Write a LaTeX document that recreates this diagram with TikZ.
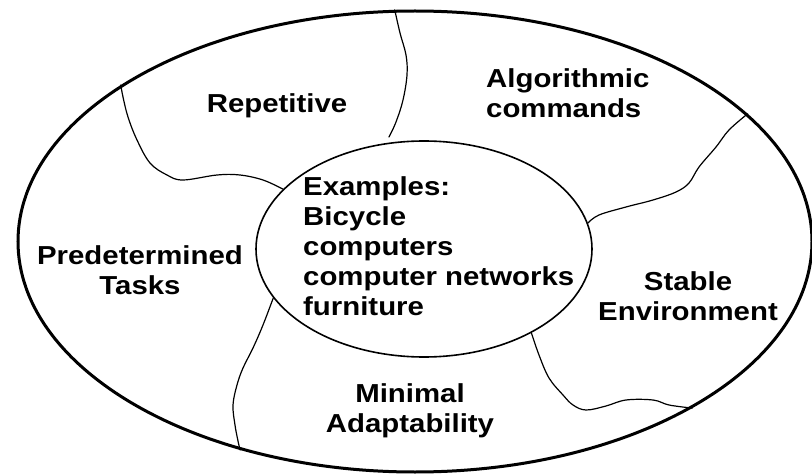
\documentclass[tikz,border=0pt]{standalone}
\usepackage{fontspec}
\usetikzlibrary{shapes.geometric}
% Wide bold sans for all labels
\newfontfamily\lblfont{Liberation Sans}[FakeStretch=1.13]
\begin{document}
\begin{tikzpicture}[x=1pt,y=1pt,
  lbl/.style={font=\lblfont\bfseries\fontsize{26}{30}\selectfont, inner sep=0pt},
  region/.style={line width=1.2pt, line join=round, line cap=round},
  oval/.style={ellipse, draw, inner sep=0pt}
]
\useasboundingbox (0,0) rectangle (812,-476);

% outer boundary and central examples oval
\node[oval, line width=3pt, minimum width=794pt, minimum height=461pt] (outer) at (415,-241.5) {};
\node[oval, line width=1.6pt, minimum width=336pt, minimum height=216pt] (inner) at (424,-249) {};

% region dividers
\draw[region] plot[smooth, tension=0.6] coordinates {(outer.152.4) (123,-97) (128,-117) (137,-140) (150,-163) (167,-175) (183,-180) (217,-175) (240,-175) (263,-180) (inner.157.4)};

\coordinate (topend) at (389,-137);
\draw[region] plot[smooth, tension=0.6] coordinates {(outer.95) (400,-33) (406,-55) (407,-75) (403,-100) (396,-122) (topend)};

\draw[region] plot[smooth, tension=0.6] coordinates {(outer.21.4) (729,-130) (716,-147) (699,-167) (689,-183) (676,-192) (653,-200) (626,-207) (599,-215) (inner.9)};

\draw[region] plot[smooth, tension=0.6] coordinates {(inner.-38.3) (539,-355) (549,-378) (563,-395) (573,-405) (586,-410) (606,-406) (626,-400) (653,-400) (669,-405) (outer.-31.3)};

\draw[region] plot[smooth, tension=0.6] coordinates {(inner.198.5) (263,-325) (253,-348) (243,-368) (237,-385) (233,-405) (235,-425) (238,-441) (outer.230.2)};

% labels (base anchor sits on the last line of each block)
\node[lbl, anchor=base] (rep) at (277,-113) {Repetitive};
\node[lbl, anchor=base west, align=left] (alg) at (486,-118) {Algorithmic\\commands};
\node[lbl, anchor=base, align=center] (pre) at (140,-294) {Predetermined\\Tasks};
\node[lbl, anchor=base, align=center] (sta) at (688,-320) {Stable\\Environment};
\node[lbl, anchor=base, align=center] (min) at (410,-432) {Minimal\\Adaptability};
\node[lbl, anchor=base west, align=left] (ex) at (303,-315) {Examples:\\Bicycle\\computers\\computer networks\\furniture};
\end{tikzpicture}
\end{document}
